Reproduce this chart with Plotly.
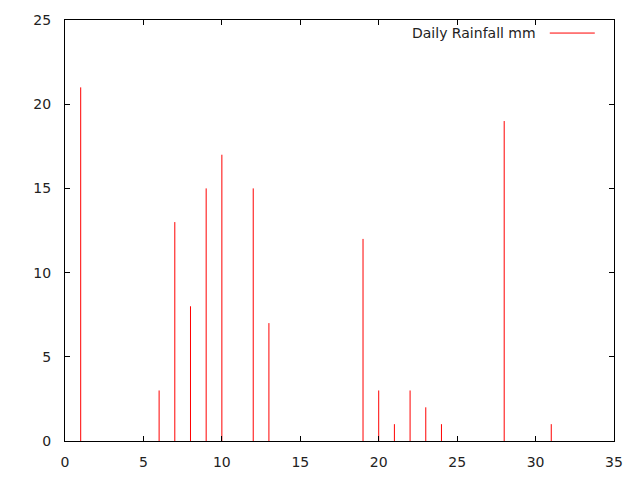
#!/usr/bin/env python3
"""
Daily rainfall impulse chart, gnuplot look, drawn with Plotly.
"""

import plotly.graph_objects as go

# ---------------- Data ----------------
days = [1, 6, 7, 8, 9, 10, 12, 13, 19, 20, 21, 22, 23, 24, 28, 31]
rain_mm = [21, 3, 13, 8, 15, 17, 15, 7, 12, 3, 1, 3, 2, 1, 19, 1]
series_name = 'Daily Rainfall mm'
x_ticks = [0, 5, 10, 15, 20, 25, 30, 35]
y_ticks = [0, 5, 10, 15, 20, 25]

# impulses: one vertical segment per day, separated by gaps
xs, ys = [], []
for d, v in zip(days, rain_mm):
    xs += [d, d, None]
    ys += [0, v, None]

fig = go.Figure(go.Scatter(
    x=xs, y=ys,
    mode='lines',
    line=dict(color='#ff0000', width=1),
    name=series_name,
    hoverinfo='skip',
    showlegend=False
))

font = dict(family='DejaVu Sans', size=14, color='#222222')

axis_style = dict(
    showline=True, linecolor='black', linewidth=1, mirror='allticks',
    ticks='inside', ticklen=5, tickcolor='black', tickwidth=1,
    showgrid=False, zeroline=False, automargin=False,
    tickfont=font,
)

fig.update_layout(
    width=640, height=480,
    margin=dict(l=65, r=26, t=20, b=39),
    paper_bgcolor='white', plot_bgcolor='white',
    xaxis=dict(range=[0, 35], tickvals=x_ticks, ticklabelstandoff=8, **axis_style),
    yaxis=dict(range=[0, 25], tickvals=y_ticks, ticklabelstandoff=10, **axis_style),
    showlegend=False,
)

# gnuplot-style key: text on the left, sample line on the right
fig.add_annotation(
    x=0.862, y=0.969, xref='paper', yref='paper',
    text=series_name, showarrow=False,
    xanchor='right', yanchor='middle',
    font=font
)
fig.add_shape(
    type='line', xref='paper', yref='paper',
    x0=0.883, x1=0.965, y0=0.969, y1=0.969,
    line=dict(color='#ff0000', width=1)
)

# drop the default body margin so the figure sits at the window corner
fig.write_html("out.html", config={'displayModeBar': False},
               post_script="document.body.style.margin='0';")
